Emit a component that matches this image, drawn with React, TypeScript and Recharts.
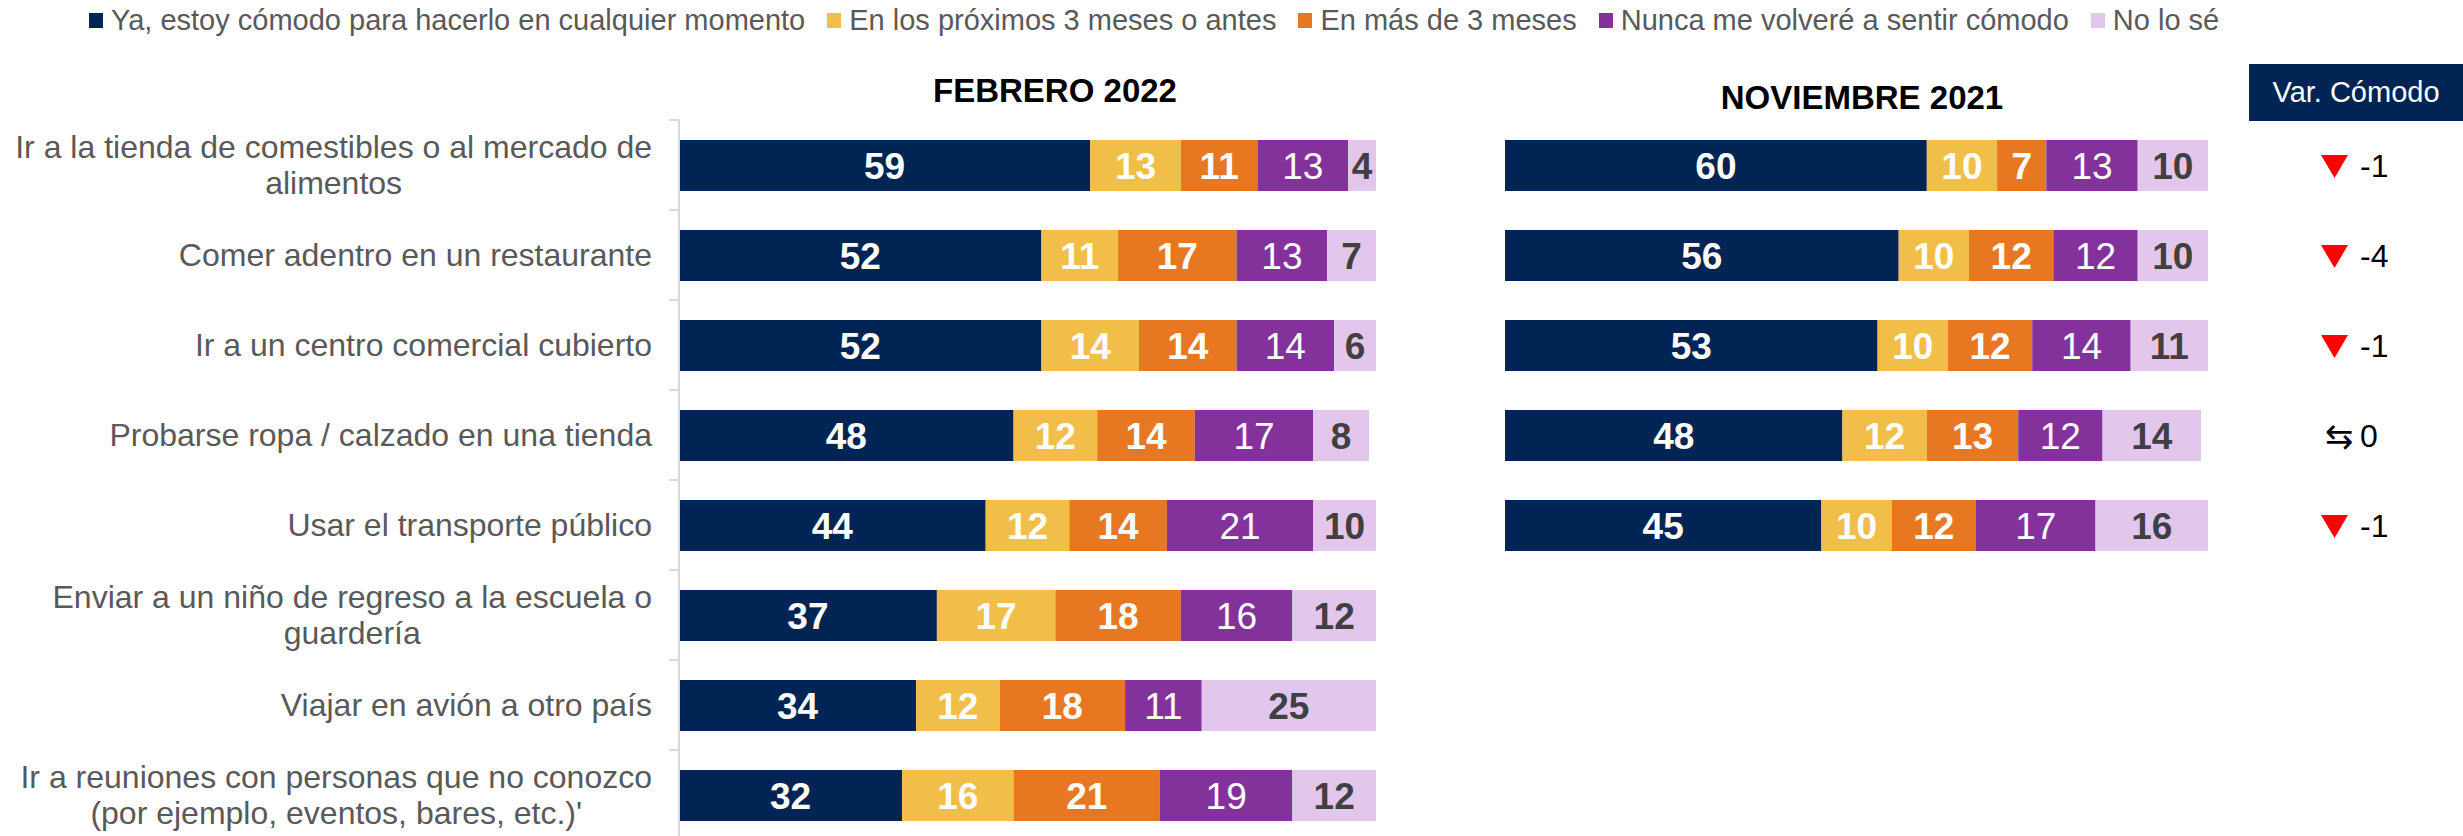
import React from 'react';
import { BarChart, Bar, XAxis, YAxis, LabelList } from 'recharts';

const SERIES = [
  'Ya, estoy cómodo para hacerlo en cualquier momento',
  'En los próximos 3 meses o antes',
  'En más de 3 meses',
  'Nunca me volveré a sentir cómodo',
  'No lo sé',
];

const COLORS = ['#002554', '#F2BE4A', '#E87722', '#84329B', '#E2C6EB'];
const LABEL_COLORS = ['#FFFFFF', '#FFFFFF', '#FFFFFF', '#FFFFFF', '#404040'];
const LABEL_WEIGHTS = ['bold', 'bold', 'bold', 'normal', 'bold'];
const KEYS = ['ya', 'proximos', 'mas3', 'nunca', 'noSe'];

const categories = [
  'Ir a la tienda de comestibles o al mercado de alimentos',
  'Comer adentro en un restaurante',
  'Ir a un centro comercial cubierto',
  'Probarse ropa / calzado en una tienda',
  'Usar el transporte público',
  'Enviar a un niño de regreso a la escuela o guardería',
  'Viajar en avión a otro país',
  "Ir a reuniones con personas que no conozco (por ejemplo, eventos, bares, etc.)'",
];

// Febrero 2022
const febYa = [59, 52, 52, 48, 44, 37, 34, 32];
const febProximos = [13, 11, 14, 12, 12, 17, 12, 16];
const febMas3 = [11, 17, 14, 14, 14, 18, 18, 21];
const febNunca = [13, 13, 14, 17, 21, 16, 11, 19];
const febNoSe = [4, 7, 6, 8, 10, 12, 25, 12];

// Noviembre 2021 (first five activities)
const novYa = [60, 56, 53, 48, 45];
const novProximos = [10, 10, 10, 12, 10];
const novMas3 = [7, 12, 12, 13, 12];
const novNunca = [13, 12, 14, 12, 17];
const novNoSe = [10, 10, 11, 14, 16];

const varComodo = [-1, -4, -1, 0, -1];

const FONT = '"Liberation Sans", Arial, sans-serif';
const BAND = 90;
const TOP = 120;
const LEFT_AXIS_X = 679;
const RIGHT_CHART_LEFT = 1420;
const VAR_X = 2208 - RIGHT_CHART_LEFT;

const febData = categories.map((name, i) => ({
  name,
  ya: febYa[i],
  proximos: febProximos[i],
  mas3: febMas3[i],
  nunca: febNunca[i],
  noSe: febNoSe[i],
}));

const novData = novYa.map((_, i) => ({
  name: categories[i],
  ya: novYa[i],
  proximos: novProximos[i],
  mas3: novMas3[i],
  nunca: novNunca[i],
  noSe: novNoSe[i],
}));

let ctx: CanvasRenderingContext2D | null = null;
const measure = (text: string, font: string) => {
  if (!ctx) ctx = document.createElement('canvas').getContext('2d');
  if (!ctx) return text.length * 15;
  ctx.font = font;
  return ctx.measureText(text).width;
};

const wrap = (text: string, maxWidth: number, font: string) => {
  const words = text.split(' ');
  const lines: string[] = [];
  let cur = '';
  words.forEach((w) => {
    const next = cur ? cur + ' ' + w : w;
    if (cur && measure(next, font) > maxWidth) {
      lines.push(cur);
      cur = w;
    } else {
      cur = next;
    }
  });
  if (cur) lines.push(cur);
  return lines;
};

const CategoryTick = (props: any) => {
  const { y, payload, index } = props;
  const font = `32px ${FONT}`;
  const lines = wrap(payload.value, 660, font);
  const blockW = Math.max(...lines.map((l) => measure(l, font)));
  const right = LEFT_AXIS_X - 27;
  const cx = right - blockW / 2;
  const lh = 36;
  const y0 = y - ((lines.length - 1) * lh) / 2;
  return (
    <g>
      <line x1={LEFT_AXIS_X - 10} x2={LEFT_AXIS_X} y1={y - BAND / 2} y2={y - BAND / 2} stroke="#D9D9D9" strokeWidth={2} />
      {index === categories.length - 1 && (
        <line x1={LEFT_AXIS_X - 10} x2={LEFT_AXIS_X} y1={y + BAND / 2} y2={y + BAND / 2} stroke="#D9D9D9" strokeWidth={2} />
      )}
      {lines.map((l, i) => (
        <text
          key={i}
          x={cx}
          y={y0 + i * lh}
          textAnchor="middle"
          dominantBaseline="central"
          fill="#595959"
          fontFamily={FONT}
          fontSize={32}
        >
          {l}
        </text>
      ))}
    </g>
  );
};

const VarTick = (props: any) => {
  const { y, index } = props;
  const v = varComodo[index];
  const tx = VAR_X + 113;
  return (
    <g>
      {v < 0 && <polygon points={`${tx},${y - 10} ${tx + 27},${y - 10} ${tx + 13.5},${y + 13}`} fill="#FF0000" />}
      {v > 0 && <polygon points={`${tx},${y + 13} ${tx + 27},${y + 13} ${tx + 13.5},${y - 10}`} fill="#00B050" />}
      {v === 0 && (
        <text x={tx + 18} y={y + 1} textAnchor="middle" dominantBaseline="central" fill="#000" fontFamily='"DejaVu Sans", sans-serif' fontSize={34}>
          ⇆
        </text>
      )}
      <text x={VAR_X + 152} y={y + 1} dominantBaseline="central" fill="#000" fontFamily={FONT} fontSize={32}>
        {v}
      </text>
    </g>
  );
};

const renderBars = () =>
  KEYS.map((k, i) => (
    <Bar key={k} dataKey={k} stackId="a" fill={COLORS[i]} barSize={51} isAnimationActive={false}>
      <LabelList
        dataKey={k}
        position="center"
        fill={LABEL_COLORS[i]}
        fontFamily={FONT}
        fontSize={37}
        fontWeight={LABEL_WEIGHTS[i]}
      />
    </Bar>
  ));

const Title = ({ text, cx, cy }: { text: string; cx: number; cy: number }) => (
  <div
    style={{
      position: 'absolute',
      left: cx - 250,
      width: 500,
      top: cy - 16,
      lineHeight: '33px',
      textAlign: 'center',
      fontFamily: FONT,
      fontWeight: 'bold',
      fontSize: 33,
      color: '#000',
    }}
  >
    {text}
  </div>
);

export default function App() {
  return (
    <div style={{ position: 'relative', width: 2463, height: 836, overflow: 'hidden', background: '#fff', fontFamily: FONT }}>
      <style>{'html,body{margin:0;padding:0;overflow:hidden;background:#fff}'}</style>

      <div style={{ position: 'absolute', left: 89, top: 0, height: 40, display: 'flex', alignItems: 'center' }}>
        {SERIES.map((s, i) => (
          <div key={s} style={{ display: 'flex', alignItems: 'center', marginRight: 22 }}>
            <div style={{ width: 14, height: 15, background: COLORS[i], marginRight: 8 }} />
            <span style={{ fontSize: 29, color: '#595959', whiteSpace: 'nowrap', lineHeight: '40px' }}>{s}</span>
          </div>
        ))}
      </div>

      <Title text="FEBRERO 2022" cx={1055} cy={90} />
      <Title text="NOVIEMBRE 2021" cx={1862} cy={97} />

      <div
        style={{
          position: 'absolute',
          left: 2249,
          top: 64,
          width: 214,
          height: 57,
          background: '#002554',
          color: '#fff',
          fontSize: 29,
          display: 'flex',
          alignItems: 'center',
          justifyContent: 'center',
        }}
      >
        Var. Cómodo
      </div>

      <div style={{ position: 'absolute', left: 0, top: 0 }}>
        <BarChart
          width={1400}
          height={TOP + BAND * categories.length}
          data={febData}
          layout="vertical"
          margin={{ top: TOP, right: 24, bottom: 0, left: 0 }}
        >
          <XAxis type="number" domain={[0, 100]} hide allowDataOverflow />
          <YAxis
            type="category"
            dataKey="name"
            width={LEFT_AXIS_X}
            interval={0}
            tickLine={false}
            axisLine={{ stroke: '#D9D9D9', strokeWidth: 2 }}
            tick={CategoryTick}
          />
          {renderBars()}
        </BarChart>
      </div>

      <div style={{ position: 'absolute', left: RIGHT_CHART_LEFT, top: 0 }}>
        <BarChart
          width={2463 - RIGHT_CHART_LEFT}
          height={TOP + BAND * novData.length}
          data={novData}
          layout="vertical"
          margin={{ top: TOP, right: 0, bottom: 0, left: 85 }}
        >
          <XAxis type="number" domain={[0, 100]} hide allowDataOverflow />
          <YAxis type="category" dataKey="name" hide />
          <YAxis
            yAxisId="var"
            orientation="right"
            type="category"
            dataKey="name"
            width={255}
            interval={0}
            tickLine={false}
            axisLine={false}
            tick={VarTick}
          />
          {renderBars()}
        </BarChart>
      </div>
    </div>
  );
}
